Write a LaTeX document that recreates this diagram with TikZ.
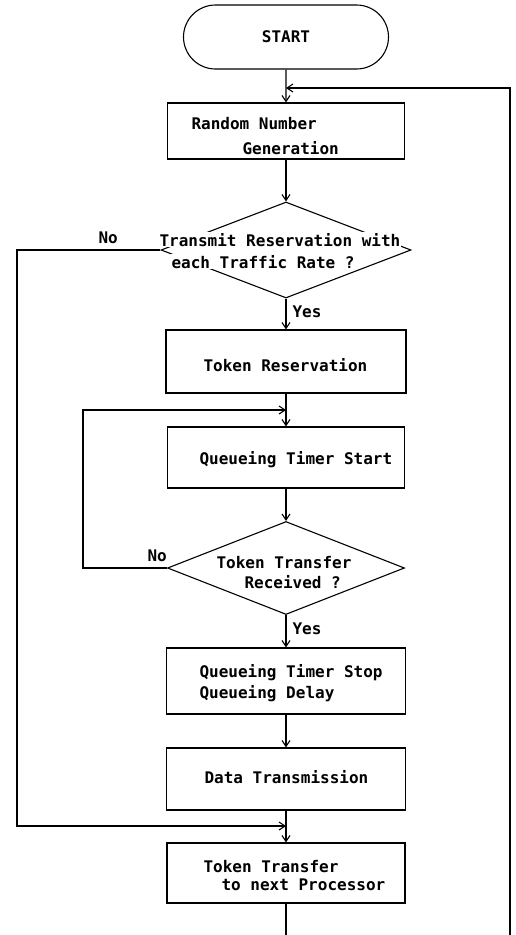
\documentclass[tikz,border=0pt]{standalone}
\usepackage{fontspec}
\newfontfamily\plotfont{DejaVu Sans Mono}
\usetikzlibrary{arrows.meta,shapes.geometric,shapes.misc}
\begin{document}
\begin{tikzpicture}[x=1pt,y=-1pt,
  line width=1.1pt,
  box/.style={draw, rectangle, inner sep=0pt},
  dia/.style={draw, diamond, inner sep=0pt},
  plot/.style={font=\plotfont\bfseries\fontsize{16}{18}\selectfont},
  term/.style={draw, rounded rectangle, inner sep=0pt, minimum width=205pt, minimum height=64pt, plot},
  txt/.style={anchor=base west, inner sep=1pt, fill=white, plot},
  arr/.style={-{Straight Barb[length=6pt,width=8pt]}},
]
\useasboundingbox (0,0) rectangle (515,935);

% main column
\node[term] (start) at (286,37) {START};
\node[box, minimum width=237pt, minimum height=56pt] (rng) at (286,131) {};
\node[dia, minimum width=250pt, minimum height=96pt] (d1) at (286,250) {};
\node[box, minimum width=240pt, minimum height=63pt] (tres) at (286,361.5) {};
\node[box, minimum width=237pt, minimum height=61pt] (qts) at (286,457.5) {};
\node[dia, minimum width=237pt, minimum height=93pt] (d2) at (286,568) {};
\node[box, minimum width=239pt, minimum height=66pt] (qtsp) at (286,681) {};
\node[box, minimum width=239pt, minimum height=62pt] (data) at (286,779) {};
\node[box, minimum width=238pt, minimum height=60pt] (ttnp) at (286,873) {};

% junctions and corners
\coordinate (j1) at (286,88);
\coordinate (j2) at (286,410);
\coordinate (j3) at (286,826);
\coordinate (n1) at (17,826);
\coordinate (n2) at (83,410);
\coordinate (rb) at (510,960);

% connectors
\draw[arr] (start) -- (rng);
\draw[arr] (rng) -- (d1);
\draw[arr] (d1) -- (tres);
\draw[arr] (tres) -- (qts);
\draw[arr] (qts) -- (d2);
\draw[arr] (d2) -- (qtsp);
\draw[arr] (qtsp) -- (data);
\draw[arr] (data) -- (ttnp);
\draw[arr] (ttnp.south) |- (rb) |- (j1);
\draw[arr] (d1.west) -| (n1) -- (j3);
\draw[arr] (d2.west) -| (n2) -- (j2);

% texts
\node[txt] (t1) at (190,129) {Random Number};
\node[txt] (t2) at (241,154) {Generation};
\node[txt] (t3) at (158,246) {Transmit Reservation with};
\node[txt] (t4) at (170,268) {each Traffic Rate ?};
\node[txt] (no1) at (97,243) {No};
\node[txt] (y1) at (291,317) {Yes};
\node[txt] (t5) at (202,371) {Token Reservation};
\node[txt] (t6) at (198,464) {Queueing Timer Start};
\node[txt] (t7) at (215,568) {Token Transfer};
\node[txt] (t8) at (243,588) {Received ?};
\node[txt] (no2) at (146,561) {No};
\node[txt] (y2) at (291,634) {Yes};
\node[txt] (t9) at (198,677) {Queueing Timer Stop};
\node[txt] (t10) at (198,698) {Queueing Delay};
\node[txt] (t11) at (203,783) {Data Transmission};
\node[txt] (t12) at (202,872) {Token Transfer};
\node[txt] (t13) at (220,890) {to next Processor};
\end{tikzpicture}
\end{document}
